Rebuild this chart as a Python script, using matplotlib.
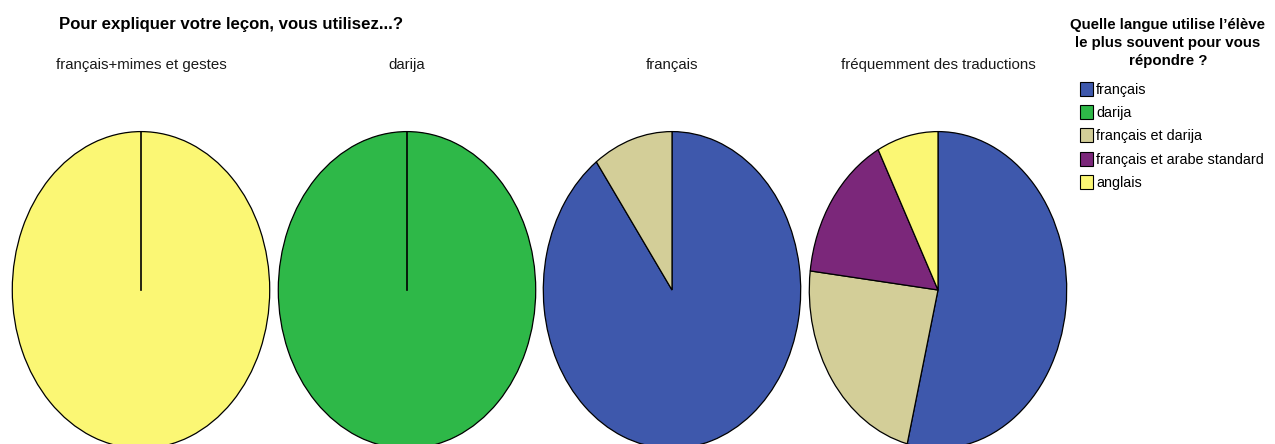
import numpy as np
import matplotlib.pyplot as plt
from matplotlib.patches import Patch

plt.rcParams['font.family'] = ['Liberation Sans', 'DejaVu Sans']

# data
categories = ['français', 'darija', 'français et darija', 'français et arabe standard', 'anglais']
colors = ['#3E58AC', '#2EB848', '#D3CE98', '#7B277A', '#FBF774']
groups = ['français+mimes et gestes', 'darija', 'français', 'fréquemment des traductions']
counts = [
    [0, 0, 0, 0, 1],   # français+mimes et gestes
    [0, 1, 0, 0, 0],   # darija
    [9, 0, 1, 0, 0],   # français
    [7, 0, 3, 2, 1],   # fréquemment des traductions
]
main_title = 'Pour expliquer votre leçon, vous utilisez...?'
legend_title = 'Quelle langue utilise l’élève\nle plus souvent pour vous\nrépondre ?'

W, H = 1275, 444
fig = plt.figure(figsize=(W / 100, H / 100), dpi=100)

centers = [141, 407, 672, 938]
rx, ry = 130, 160
cy = H - 290

for cx, name, vals in zip(centers, groups, counts):
    ax = fig.add_axes([(cx - rx) / W, (cy - ry) / H, 2 * rx / W, 2 * ry / H])
    v = [x for x in vals if x > 0]
    c = [col for x, col in zip(vals, colors) if x > 0]
    ax.pie(v, colors=c, startangle=90, counterclock=False, radius=1,
           wedgeprops=dict(edgecolor='black', linewidth=0.9))
    if len(v) == 1:
        ax.plot([0, 0], [0, 1], color='black', lw=1.2)
    ax.set_aspect('auto')
    ax.set_xlim(-1.01, 1.01)
    ax.set_ylim(-1.01, 1.01)
    fig.text(cx / W, 1 - 65 / H, name, ha='center', va='center', fontsize=10.8, color='#1a1a1a')

fig.text(59 / W, 1 - 25 / H, main_title, ha='left', va='center', fontsize=12.1, fontweight='bold')

fig.text(1168 / W, 1 - 43 / H, legend_title, ha='center', va='center', fontsize=10.8,
         fontweight='bold', linespacing=1.35, multialignment='center')

handles = [Patch(facecolor=col, edgecolor='black', linewidth=0.8) for col in colors]
leg = fig.legend(handles, categories, loc='upper left', bbox_to_anchor=(1080 / W, 1 - 82 / H),
                 frameon=False, fontsize=10.4,
                 handlelength=0.9, handleheight=1.1, handletextpad=0.2,
                 labelspacing=0.58, borderaxespad=0, borderpad=0)

fig.savefig('out.png', dpi=100)
